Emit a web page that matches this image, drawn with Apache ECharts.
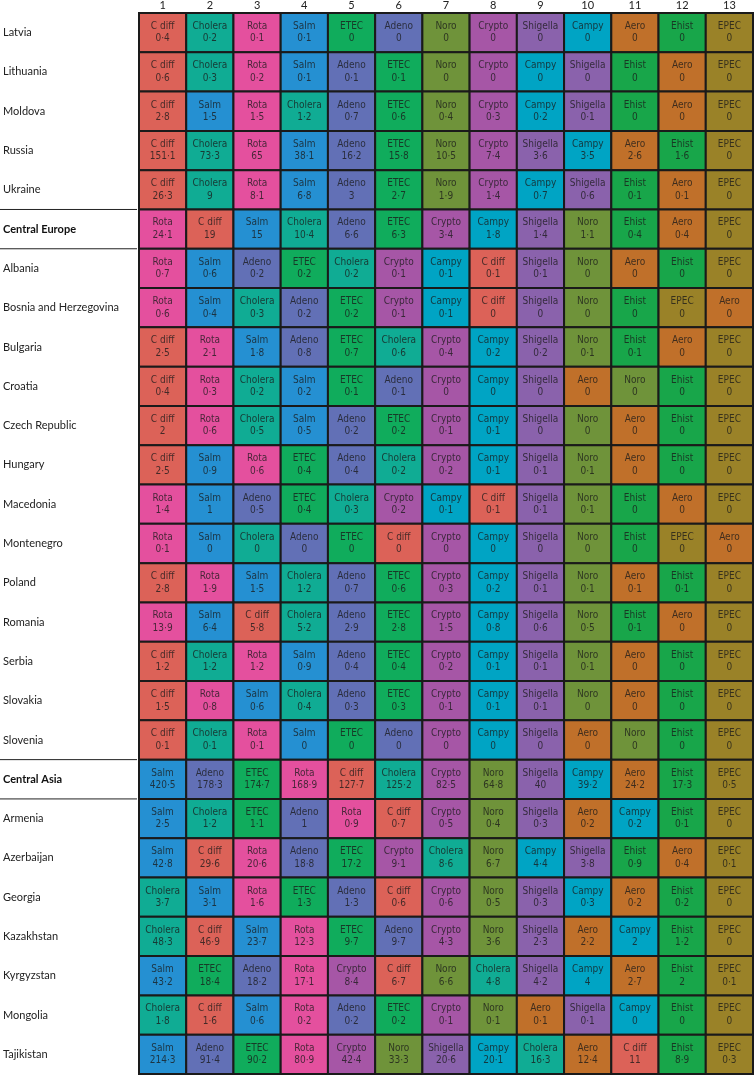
<!DOCTYPE html>
<html>
<head>
<meta charset="utf-8">
<script src="https://cdn.jsdelivr.net/npm/echarts@6/dist/echarts.min.js"></script>
<style>
html,body{margin:0;padding:0;background:#fff;}
#chart{width:754px;height:1076px;}
</style>
</head>
<body>
<div id="chart"></div>
<script>
// ---- DATA ----
const rankLabels = ['1','2','3','4','5','6','7','8','9','10','11','12','13'];
const rows = ['Latvia','Lithuania','Moldova','Russia','Ukraine','Central Europe','Albania','Bosnia and Herzegovina','Bulgaria','Croatia','Czech Republic','Hungary','Macedonia','Montenegro','Poland','Romania','Serbia','Slovakia','Slovenia','Central Asia','Armenia','Azerbaijan','Georgia','Kazakhstan','Kyrgyzstan','Mongolia','Tajikistan'];
const regionRows = ['Central Europe','Central Asia'];

const rowPathogens = [
  ['C diff','Cholera','Rota','Salm','ETEC','Adeno','Noro','Crypto','Shigella','Campy','Aero','Ehist','EPEC'],
  ['C diff','Cholera','Rota','Salm','Adeno','ETEC','Noro','Crypto','Campy','Shigella','Ehist','Aero','EPEC'],
  ['C diff','Salm','Rota','Cholera','Adeno','ETEC','Noro','Crypto','Campy','Shigella','Ehist','Aero','EPEC'],
  ['C diff','Cholera','Rota','Salm','Adeno','ETEC','Noro','Crypto','Shigella','Campy','Aero','Ehist','EPEC'],
  ['C diff','Cholera','Rota','Salm','Adeno','ETEC','Noro','Crypto','Campy','Shigella','Ehist','Aero','EPEC'],
  ['Rota','C diff','Salm','Cholera','Adeno','ETEC','Crypto','Campy','Shigella','Noro','Ehist','Aero','EPEC'],
  ['Rota','Salm','Adeno','ETEC','Cholera','Crypto','Campy','C diff','Shigella','Noro','Aero','Ehist','EPEC'],
  ['Rota','Salm','Cholera','Adeno','ETEC','Crypto','Campy','C diff','Shigella','Noro','Ehist','EPEC','Aero'],
  ['C diff','Rota','Salm','Adeno','ETEC','Cholera','Crypto','Campy','Shigella','Noro','Ehist','Aero','EPEC'],
  ['C diff','Rota','Cholera','Salm','ETEC','Adeno','Crypto','Campy','Shigella','Aero','Noro','Ehist','EPEC'],
  ['C diff','Rota','Cholera','Salm','Adeno','ETEC','Crypto','Campy','Shigella','Noro','Aero','Ehist','EPEC'],
  ['C diff','Salm','Rota','ETEC','Adeno','Cholera','Crypto','Campy','Shigella','Noro','Aero','Ehist','EPEC'],
  ['Rota','Salm','Adeno','ETEC','Cholera','Crypto','Campy','C diff','Shigella','Noro','Ehist','Aero','EPEC'],
  ['Rota','Salm','Cholera','Adeno','ETEC','C diff','Crypto','Campy','Shigella','Noro','Ehist','EPEC','Aero'],
  ['C diff','Rota','Salm','Cholera','Adeno','ETEC','Crypto','Campy','Shigella','Noro','Aero','Ehist','EPEC'],
  ['Rota','Salm','C diff','Cholera','Adeno','ETEC','Crypto','Campy','Shigella','Noro','Ehist','Aero','EPEC'],
  ['C diff','Cholera','Rota','Salm','Adeno','ETEC','Crypto','Campy','Shigella','Noro','Aero','Ehist','EPEC'],
  ['C diff','Rota','Salm','Cholera','Adeno','ETEC','Crypto','Campy','Shigella','Noro','Aero','Ehist','EPEC'],
  ['C diff','Cholera','Rota','Salm','ETEC','Adeno','Crypto','Campy','Shigella','Aero','Noro','Ehist','EPEC'],
  ['Salm','Adeno','ETEC','Rota','C diff','Cholera','Crypto','Noro','Shigella','Campy','Aero','Ehist','EPEC'],
  ['Salm','Cholera','ETEC','Adeno','Rota','C diff','Crypto','Noro','Shigella','Aero','Campy','Ehist','EPEC'],
  ['Salm','C diff','Rota','Adeno','ETEC','Crypto','Cholera','Noro','Campy','Shigella','Ehist','Aero','EPEC'],
  ['Cholera','Salm','Rota','ETEC','Adeno','C diff','Crypto','Noro','Shigella','Campy','Aero','Ehist','EPEC'],
  ['Cholera','C diff','Salm','Rota','ETEC','Adeno','Crypto','Noro','Shigella','Aero','Campy','Ehist','EPEC'],
  ['Salm','ETEC','Adeno','Rota','Crypto','C diff','Noro','Cholera','Shigella','Campy','Aero','Ehist','EPEC'],
  ['Cholera','C diff','Salm','Rota','Adeno','ETEC','Crypto','Noro','Aero','Shigella','Campy','Ehist','EPEC'],
  ['Salm','Adeno','ETEC','Rota','Crypto','Noro','Shigella','Campy','Cholera','Aero','C diff','Ehist','EPEC']
];

const rowValues = [
  [0.4,0.2,0.1,0.1,0,0,0,0,0,0,0,0,0],
  [0.6,0.3,0.2,0.1,0.1,0.1,0,0,0,0,0,0,0],
  [2.8,1.5,1.5,1.2,0.7,0.6,0.4,0.3,0.2,0.1,0,0,0],
  [151.1,73.3,65,38.1,16.2,15.8,10.5,7.4,3.6,3.5,2.6,1.6,0],
  [26.3,9,8.1,6.8,3,2.7,1.9,1.4,0.7,0.6,0.1,0.1,0],
  [24.1,19,15,10.4,6.6,6.3,3.4,1.8,1.4,1.1,0.4,0.4,0],
  [0.7,0.6,0.2,0.2,0.2,0.1,0.1,0.1,0.1,0,0,0,0],
  [0.6,0.4,0.3,0.2,0.2,0.1,0.1,0,0,0,0,0,0],
  [2.5,2.1,1.8,0.8,0.7,0.6,0.4,0.2,0.2,0.1,0.1,0,0],
  [0.4,0.3,0.2,0.2,0.1,0.1,0,0,0,0,0,0,0],
  [2,0.6,0.5,0.5,0.2,0.2,0.1,0.1,0,0,0,0,0],
  [2.5,0.9,0.6,0.4,0.4,0.2,0.2,0.1,0.1,0.1,0,0,0],
  [1.4,1,0.5,0.4,0.3,0.2,0.1,0.1,0.1,0.1,0,0,0],
  [0.1,0,0,0,0,0,0,0,0,0,0,0,0],
  [2.8,1.9,1.5,1.2,0.7,0.6,0.3,0.2,0.1,0.1,0.1,0.1,0],
  [13.9,6.4,5.8,5.2,2.9,2.8,1.5,0.8,0.6,0.5,0.1,0,0],
  [1.2,1.2,1.2,0.9,0.4,0.4,0.2,0.1,0.1,0.1,0,0,0],
  [1.5,0.8,0.6,0.4,0.3,0.3,0.1,0.1,0.1,0,0,0,0],
  [0.1,0.1,0.1,0,0,0,0,0,0,0,0,0,0],
  [420.5,178.3,174.7,168.9,127.7,125.2,82.5,64.8,40,39.2,24.2,17.3,0.5],
  [2.5,1.2,1.1,1,0.9,0.7,0.5,0.4,0.3,0.2,0.2,0.1,0],
  [42.8,29.6,20.6,18.8,17.2,9.1,8.6,6.7,4.4,3.8,0.9,0.4,0.1],
  [3.7,3.1,1.6,1.3,1.3,0.6,0.6,0.5,0.3,0.3,0.2,0.2,0],
  [48.3,46.9,23.7,12.3,9.7,9.7,4.3,3.6,2.3,2.2,2,1.2,0],
  [43.2,18.4,18.2,17.1,8.4,6.7,6.6,4.8,4.2,4,2.7,2,0.1],
  [1.8,1.6,0.6,0.2,0.2,0.2,0.1,0.1,0.1,0.1,0,0,0],
  [214.3,91.4,90.2,80.9,42.4,33.3,20.6,20.1,16.3,12.4,11,8.9,0.3]
];

// ---- STYLE ----
const pathogenColors = {
  'C diff':'#dc6258','Cholera':'#10ac94','Rota':'#e4509e','Salm':'#2590d2',
  'ETEC':'#10ac5c','Adeno':'#6270b6','Noro':'#6f933a','Crypto':'#a656a6',
  'Shigella':'#8a62ac','Campy':'#00a4c4','Aero':'#c0702a','Ehist':'#18a64a','EPEC':'#9a8228'
};
const cellFont = "'Liberation Sans Narrow','DejaVu Sans Condensed',Lato,sans-serif";

function fmt(v){ return String(v).replace('.', '\u00b7'); }

const data = [];
rows.forEach((r, ri) => {
  rowPathogens[ri].forEach((p, ci) => {
    data.push({ value: [ci, ri, rowValues[ri][ci]], name: p });
  });
});

const chart = echarts.init(document.getElementById('chart'), null, {renderer:'canvas'});
chart.setOption({
  animation: false,
  backgroundColor: '#fff',
  grid: { left: 137, right: 1, top: 11, bottom: 2 },
  xAxis: {
    type: 'category', data: rankLabels, position: 'top',
    axisLine: {show:false}, axisTick: {show:false}, splitLine:{show:false},
    axisLabel: { margin: 2, fontSize: 11, color: '#222', fontFamily: 'Lato' }
  },
  yAxis: {
    type: 'category', data: rows, inverse: true,
    axisLine: {show:false}, axisTick: {show:false}, splitLine:{show:false},
    axisLabel: {
      align: 'left', margin: 136, fontSize: 11, color: '#222', fontFamily: 'Lato',
      formatter: v => regionRows.includes(v) ? '{b|' + v + '}' : v,
      rich: { b: { fontWeight: 'bold', fontSize: 11, color: '#111', fontFamily: 'Lato' } }
    }
  },
  series: [{
    type: 'custom',
    data: data,
    renderItem: function (params, api) {
      const item = data[params.dataIndex];
      const p = api.coord([api.value(0), api.value(1)]);
      const s = api.size([1, 1]);
      return {
        type: 'rect',
        shape: { x: p[0] - s[0] / 2, y: p[1] - s[1] / 2, width: s[0], height: s[1] },
        style: { fill: pathogenColors[item.name], stroke: '#1a1a1a', lineWidth: 2 },
        textContent: {
          style: {
            text: item.name + '\n' + fmt(api.value(2)),
            fill: 'rgba(25,25,25,0.78)',
            fontSize: 10, fontFamily: cellFont,
            lineHeight: 12.5, align: 'center', verticalAlign: 'middle'
          }
        },
        textConfig: { position: 'inside' }
      };
    }
  }]
});

// separator lines across the label column for the region rows
const gridLeft = 137;
const band = chart.convertToPixel({yAxisIndex:0}, rows[1]) - chart.convertToPixel({yAxisIndex:0}, rows[0]);
const lines = [];
regionRows.forEach(r => {
  const yc = chart.convertToPixel({yAxisIndex:0}, r);
  [yc - band/2, yc + band/2].forEach(y => {
    lines.push({ type:'line', shape:{x1:0, y1:y, x2:gridLeft, y2:y}, style:{stroke:'#222', lineWidth:1} });
  });
});
chart.setOption({ graphic: lines });
</script>
</body>
</html>
